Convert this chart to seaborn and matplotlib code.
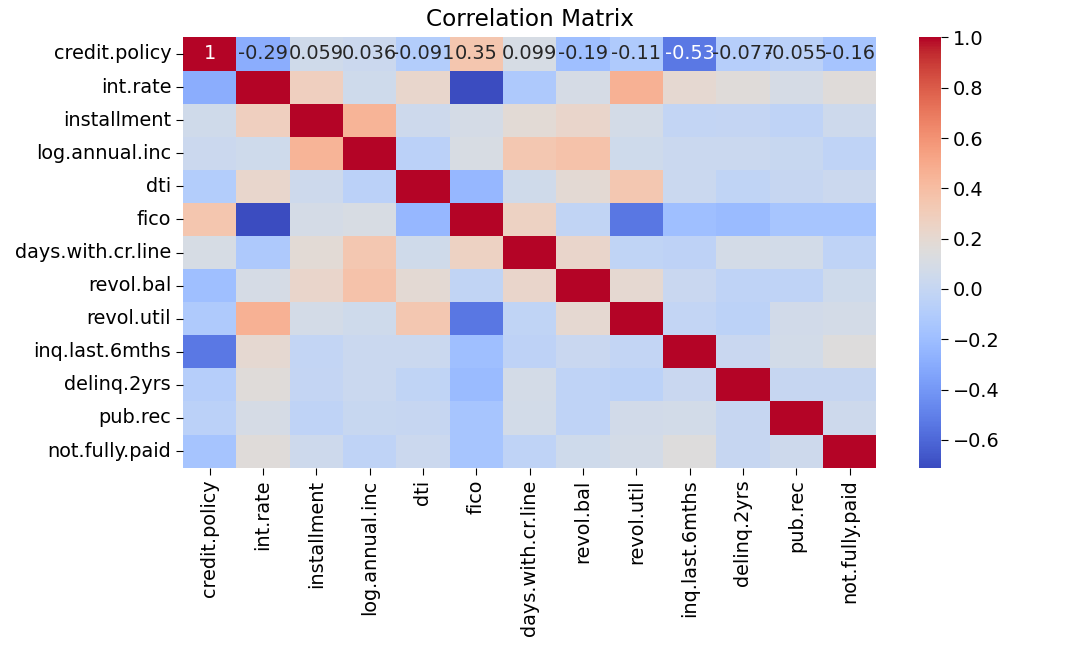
import numpy as np
import pandas as pd
import seaborn as sns
import matplotlib.pyplot as plt

cols = ['credit.policy', 'int.rate', 'installment', 'log.annual.inc', 'dti', 'fico',
        'days.with.cr.line', 'revol.bal', 'revol.util', 'inq.last.6mths',
        'delinq.2yrs', 'pub.rec', 'not.fully.paid']

# upper triangle of the correlation matrix, row by row
credit_policy = [-0.29, 0.059, 0.036, -0.091, 0.35, 0.099, -0.19, -0.11, -0.53, -0.077, -0.055, -0.16]
int_rate = [0.28, 0.056, 0.22, -0.71, -0.12, 0.093, 0.46, 0.20, 0.16, 0.098, 0.16]
installment = [0.45, 0.050, 0.086, 0.18, 0.23, 0.081, -0.010, -0.004, -0.033, 0.050]
log_annual_inc = [-0.054, 0.11, 0.34, 0.37, 0.055, 0.029, 0.029, 0.017, -0.033]
dti = [-0.24, 0.060, 0.19, 0.34, 0.029, -0.022, 0.006, 0.037]
fico = [0.26, -0.016, -0.54, -0.19, -0.22, -0.15, -0.15]
days_with_cr_line = [0.23, -0.024, -0.042, 0.081, 0.072, -0.029]
revol_bal = [0.20, 0.022, -0.033, -0.031, 0.054]
revol_util = [-0.014, -0.043, 0.067, 0.082]
inq_last_6mths = [0.021, 0.073, 0.15]
delinq_2yrs = [0.0092, 0.0089]
pub_rec = [0.049]

upper = [credit_policy, int_rate, installment, log_annual_inc, dti, fico,
         days_with_cr_line, revol_bal, revol_util, inq_last_6mths, delinq_2yrs, pub_rec]

n = len(cols)
mat = np.eye(n)
for i, row in enumerate(upper):
    for k, v in enumerate(row):
        j = i + 1 + k
        mat[i, j] = v
        mat[j, i] = v
corr = pd.DataFrame(mat, index=cols, columns=cols)

# only the first row shows annotations
annot = np.full((n, n), '', dtype=object)
annot[0] = ['1'] + ['{:.2g}'.format(v) for v in credit_policy]

fs = 13.9
fig = plt.figure(figsize=(10.8, 6.45), dpi=100)
ax = fig.add_axes([0.1694, 0.275, 0.642, 0.667])
cax = fig.add_axes([0.851, 0.275, 0.0204, 0.667])
sns.heatmap(corr, annot=annot, fmt='', cmap='coolwarm', ax=ax, cbar_ax=cax,
            annot_kws={'fontsize': fs})
ax.set_title('Correlation Matrix', fontsize=16.7, pad=8)
ax.tick_params(labelsize=fs, length=5)
cax.tick_params(labelsize=fs, length=5)
fig.savefig('out.png')
